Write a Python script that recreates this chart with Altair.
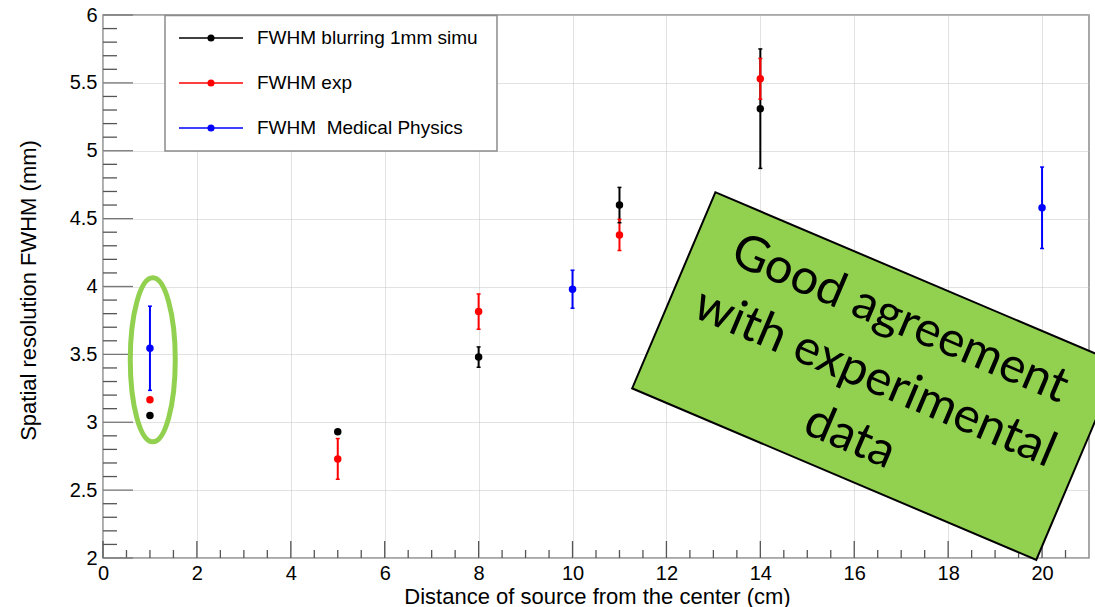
import altair as alt
import pandas as pd

# ---------------- data ----------------
SERIES = ["FWHM blurring 1mm simu", "FWHM exp", "FWHM\u00a0 Medical Physics"]
COLORS = ["#000000", "#ff0000", "#0000ff"]

SIMU_X = [1, 5, 8, 11, 14]
SIMU_Y = [3.05, 2.93, 3.48, 4.60, 5.31]
SIMU_ERR = [0.0, 0.0, 0.075, 0.13, 0.44]

EXP_X = [1, 5, 8, 11, 14]
EXP_Y = [3.165, 2.73, 3.815, 4.38, 5.53]
EXP_ERR = [0.0, 0.15, 0.13, 0.115, 0.15]

MED_X = [1, 10, 20]
MED_Y = [3.545, 3.98, 4.58]
MED_ERR = [0.31, 0.14, 0.30]

X_MAJOR = [0, 2, 4, 6, 8, 10, 12, 14, 16, 18, 20]
Y_MAJOR = [2, 2.5, 3, 3.5, 4, 4.5, 5, 5.5, 6]
X_MINOR = [i * 0.5 for i in range(1, 42) if i % 4 != 0]
Y_MINOR = [round(2 + i * 0.1, 2) for i in range(1, 40) if i % 5 != 0]

X_TITLE = "Distance of source from the center (cm)"
Y_TITLE = "Spatial resolution FWHM (mm)"
NOTE_LINES = ["Good agreement", "with experimental", "data"]

# annotation anchors (data coordinates)
NOTE_POS = {"x": [16.46], "y": [3.34]}
RING_POS = {"x": [1.06], "y": [3.46]}

# ---------------- layout / style ----------------
W, H = 986, 543
FONT = "Liberation Sans"
GREEN = "#92D050"

XS = alt.Scale(domain=[0, 21], nice=False, zero=False)
YS = alt.Scale(domain=[2, 6], nice=False, zero=False)
CS = alt.Scale(domain=SERIES, range=COLORS)

rows = []
for name, xs, ys, es in zip(SERIES, [SIMU_X, EXP_X, MED_X],
                            [SIMU_Y, EXP_Y, MED_Y], [SIMU_ERR, EXP_ERR, MED_ERR]):
    for x, y, e in zip(xs, ys, es):
        rows.append({"series": name, "x": x, "y": y, "err": e,
                     "lo": y - e, "hi": y + e})
df = pd.DataFrame(rows)
df_err = df[df["err"] > 0]

x_axis = alt.Axis(values=X_MAJOR, title=X_TITLE, titleX=494, titleY=45,
                  titleBaseline="alphabetic", titleAlign="center",
                  labelPadding=5)
y_axis = alt.Axis(values=Y_MAJOR, format="~g", title=Y_TITLE, titleX=-75,
                  titleY=275, titleAngle=270, titleBaseline="middle",
                  titleAlign="center", labelPadding=6)


def X(field):
    return alt.X(field, scale=XS, axis=x_axis)


def Y(field):
    return alt.Y(field, scale=YS, axis=y_axis)


color = alt.Color("series:N", scale=CS, legend=None)

bars = alt.Chart(df).mark_rule(strokeWidth=2).encode(
    x=X("x:Q"), y=Y("lo:Q"), y2="hi:Q", color=color)
cap_hi = alt.Chart(df_err).mark_point(shape="stroke", size=16, strokeWidth=1.5,
                                      filled=False, opacity=1).encode(
    x=X("x:Q"), y=Y("hi:Q"), color=color)
cap_lo = alt.Chart(df_err).mark_point(shape="stroke", size=16, strokeWidth=1.5,
                                      filled=False, opacity=1).encode(
    x=X("x:Q"), y=Y("lo:Q"), color=color)
points = alt.Chart(df).mark_point(filled=True, size=56, opacity=1).encode(
    x=X("x:Q"), y=Y("y:Q"), color=color)

# inward ticks (ROOT style)
TICK_COLOR = "#555555"
xt_major = alt.Chart(pd.DataFrame({"x": X_MAJOR})).mark_rule(
    color=TICK_COLOR, strokeWidth=1.3).encode(
    x=X("x:Q"), y=alt.value(H), y2=alt.value(H - 17))
xt_minor = alt.Chart(pd.DataFrame({"x": X_MINOR})).mark_rule(
    color=TICK_COLOR, strokeWidth=1.3).encode(
    x=X("x:Q"), y=alt.value(H), y2=alt.value(H - 8))
yt_major = alt.Chart(pd.DataFrame({"y": Y_MAJOR})).mark_rule(
    color="#777777", strokeWidth=1.3).encode(
    y=Y("y:Q"), x=alt.value(0), x2=alt.value(30))
yt_minor = alt.Chart(pd.DataFrame({"y": Y_MINOR})).mark_rule(
    color=TICK_COLOR, strokeWidth=1.3).encode(
    y=Y("y:Q"), x=alt.value(0), x2=alt.value(14))

# legend (drawn by hand, ROOT TLegend look)
one = pd.DataFrame({"a": [0]})
legend_layers = [
    alt.Chart(one).mark_rect(fill="white", stroke="#8c8c8c", strokeWidth=1.5).encode(
        x=alt.value(62), x2=alt.value(394), y=alt.value(0.5), y2=alt.value(136))
]
for name, col, ry in zip(SERIES, COLORS, [23, 68, 113]):
    legend_layers.append(alt.Chart(one).mark_rule(color=col, strokeWidth=1.5).encode(
        x=alt.value(76), x2=alt.value(140), y=alt.value(ry)))
    legend_layers.append(alt.Chart(one).mark_point(
        filled=True, size=50, opacity=1, color=col).encode(
        x=alt.value(108), y=alt.value(ry)))
    legend_layers.append(alt.Chart(one).mark_text(
        text=name, align="left", baseline="middle", fontSize=19, font=FONT,
        color="black").encode(x=alt.value(154), y=alt.value(ry)))

# overlays: green ring round the x=1 points and rotated note box
k = 0.5523
a = 0.2744
ELLIPSE = (f"M{a},0 C{a},{k} {k*a},1 0,1 C{-k*a},1 {-a},{k} {-a},0 "
           f"C{-a},{-k} {-k*a},-1 0,-1 C{k*a},-1 {a},{-k} {a},0 Z")
hb = 213 / 439
RECT = f"M-1,{-hb} L1,{-hb} L1,{hb} L-1,{hb} Z"

ring = alt.Chart(pd.DataFrame(RING_POS)).mark_point(
    shape=ELLIPSE, size=164 ** 2, filled=False, stroke=GREEN, strokeWidth=5,
    opacity=1).encode(x=X("x:Q"), y=Y("y:Q"))

note_box = alt.Chart(pd.DataFrame(NOTE_POS)).mark_point(
    shape=RECT, size=439 ** 2, angle=23, filled=True, fill=GREEN,
    stroke="black", strokeWidth=2, opacity=1, fillOpacity=1,
    strokeOpacity=1).encode(x=X("x:Q"), y=Y("y:Q"))

note_text = alt.Chart(pd.DataFrame(NOTE_POS)).mark_text(
    text=NOTE_LINES, angle=23, fontSize=49, font="Lato", align="center",
    baseline="middle", lineHeight=64, dy=-62, color="black").encode(
    x=X("x:Q"), y=Y("y:Q"))

chart = alt.layer(
    bars, cap_hi, cap_lo, points,
    xt_major, xt_minor, yt_major, yt_minor,
    *legend_layers,
    ring, note_box, note_text,
).properties(
    width=W, height=H,
    autosize=alt.AutoSizeParams(type="none"),
    padding={"left": 103, "top": 15, "right": 6, "bottom": 49},
    background="white",
).configure_view(
    stroke="#8c8c8c", strokeWidth=1.5
).configure_axis(
    labelFont=FONT, labelFontSize=20, labelColor="black",
    titleFont=FONT, titleFontSize=22, titleColor="black", titleFontWeight="normal",
    ticks=False, tickSize=0, domain=False,
    grid=True, gridColor="#c4c4c4", gridDash=[1, 1], gridWidth=1,
    labelFlush=False, labelOverlap=False,
)

chart.save("out.html", embed_options={"renderer": "svg", "actions": False})
